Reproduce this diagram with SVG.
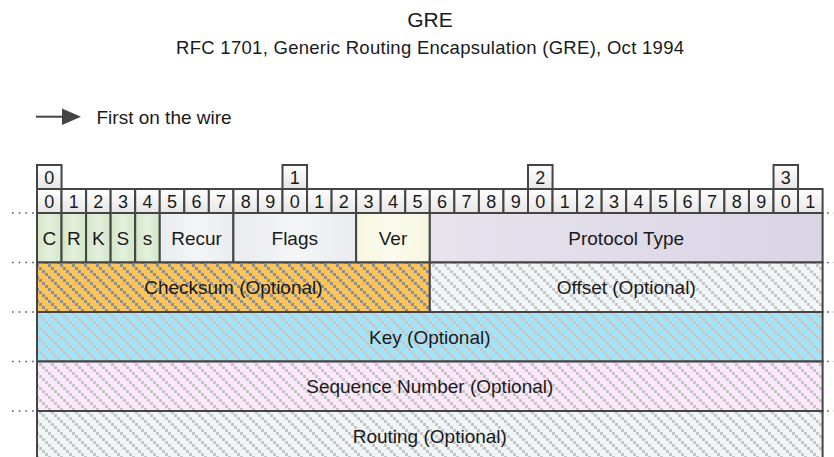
<svg xmlns="http://www.w3.org/2000/svg" width="834" height="457" viewBox="0 0 834 457">
<defs>
<style>
text{font-family:"Liberation Sans",Arial,sans-serif;fill:#1a1a1a;text-anchor:middle}
.t{font-size:21px}
.st{font-size:18.5px}
.lg{font-size:19px;text-anchor:start}
.bit{fill:url(#gBit);stroke:#454545;stroke-width:2}
.d{font-size:18px}
.f{stroke:#454545;stroke-width:2}
.lb{font-size:19px}
.dot{stroke:#555;stroke-width:1.6;stroke-dasharray:1.6 5.1;fill:none}
</style>
<linearGradient id="gBit" x1="0" y1="0" x2="0" y2="1"><stop offset="0" stop-color="#ffffff"/><stop offset="1" stop-color="#e6e6e6"/></linearGradient>
<linearGradient id="gGreen" x1="0" y1="0" x2="1" y2="0"><stop offset="0" stop-color="#d2e6c6"/><stop offset="0.5" stop-color="#e4f0dc"/><stop offset="1" stop-color="#d2e6c6"/></linearGradient>
<linearGradient id="gGray" x1="0" y1="0" x2="1" y2="0"><stop offset="0" stop-color="#e9ecf0"/><stop offset="0.5" stop-color="#f3f5f7"/><stop offset="1" stop-color="#e9ecf0"/></linearGradient>
<linearGradient id="gYel" x1="0" y1="0" x2="1" y2="0"><stop offset="0" stop-color="#f6f6df"/><stop offset="0.5" stop-color="#fbfbee"/><stop offset="1" stop-color="#f6f6df"/></linearGradient>
<linearGradient id="gLav" x1="0" y1="0" x2="1" y2="0"><stop offset="0" stop-color="#e6e3ec"/><stop offset="1" stop-color="#dad4e5"/></linearGradient>
<pattern id="hOr" width="12" height="12" patternUnits="userSpaceOnUse"><rect width="12" height="12" fill="#fcc55c"/><path d="M0 0h3v3h-3zM3 3h3v3h-3zM6 6h3v3h-3zM9 9h3v3h-3z" fill="#8e8e8e"/></pattern>
<pattern id="hOff" width="12" height="12" patternUnits="userSpaceOnUse"><rect width="12" height="12" fill="#f1f6f8"/><path d="M0 0h3v3h-3zM3 3h3v3h-3zM6 6h3v3h-3zM9 9h3v3h-3z" fill="#c9c9c9"/></pattern>
<pattern id="hKey" width="12" height="12" patternUnits="userSpaceOnUse"><rect width="12" height="12" fill="#a3e4f9"/><path d="M0 0h3v3h-3zM3 3h3v3h-3zM6 6h3v3h-3zM9 9h3v3h-3z" fill="#c6c6c6"/></pattern>
<pattern id="hSeq" width="12" height="12" patternUnits="userSpaceOnUse"><rect width="12" height="12" fill="#fde7fb"/><path d="M0 0h3v3h-3zM3 3h3v3h-3zM6 6h3v3h-3zM9 9h3v3h-3z" fill="#c6c6c6"/></pattern>
<pattern id="hRt" width="12" height="12" patternUnits="userSpaceOnUse"><rect width="12" height="12" fill="#f0f6f8"/><path d="M0 0h3v3h-3zM3 3h3v3h-3zM6 6h3v3h-3zM9 9h3v3h-3z" fill="#c6c6c6"/></pattern>
</defs>
<rect width="834" height="457" fill="#ffffff"/>

<g id="title">
<text class="t" x="430" y="27">GRE</text>
<text class="st" x="430" y="53.5" textLength="508" lengthAdjust="spacing">RFC 1701, Generic Routing Encapsulation (GRE), Oct 1994</text>
</g>

<g id="legend">
<line x1="36" y1="116.7" x2="64" y2="116.7" stroke="#444" stroke-width="2"/>
<polygon points="62,108.5 81,116.7 62,125" fill="#444"/>
<text class="lg" x="96.5" y="123.5">First on the wire</text>
</g>

<g id="bit-decades">
<rect class="bit" x="37" y="165" width="24.55" height="24"/><text class="d" x="49.28" y="183.5">0</text>
<rect class="bit" x="282.5" y="165" width="24.55" height="24"/><text class="d" x="294.78" y="183.5">1</text>
<rect class="bit" x="528" y="165" width="24.55" height="24"/><text class="d" x="540.28" y="183.5">2</text>
<rect class="bit" x="773.5" y="165" width="24.55" height="24"/><text class="d" x="785.78" y="183.5">3</text>
</g>

<g id="bit-numbers">
<rect class="bit" x="37" y="189" width="24.55" height="24"/><text class="d" x="49.28" y="207.5">0</text>
<rect class="bit" x="61.55" y="189" width="24.55" height="24"/><text class="d" x="73.83" y="207.5">1</text>
<rect class="bit" x="86.1" y="189" width="24.55" height="24"/><text class="d" x="98.38" y="207.5">2</text>
<rect class="bit" x="110.65" y="189" width="24.55" height="24"/><text class="d" x="122.93" y="207.5">3</text>
<rect class="bit" x="135.2" y="189" width="24.55" height="24"/><text class="d" x="147.48" y="207.5">4</text>
<rect class="bit" x="159.75" y="189" width="24.55" height="24"/><text class="d" x="172.03" y="207.5">5</text>
<rect class="bit" x="184.3" y="189" width="24.55" height="24"/><text class="d" x="196.58" y="207.5">6</text>
<rect class="bit" x="208.85" y="189" width="24.55" height="24"/><text class="d" x="221.13" y="207.5">7</text>
<rect class="bit" x="233.4" y="189" width="24.55" height="24"/><text class="d" x="245.68" y="207.5">8</text>
<rect class="bit" x="257.95" y="189" width="24.55" height="24"/><text class="d" x="270.23" y="207.5">9</text>
<rect class="bit" x="282.5" y="189" width="24.55" height="24"/><text class="d" x="294.78" y="207.5">0</text>
<rect class="bit" x="307.05" y="189" width="24.55" height="24"/><text class="d" x="319.33" y="207.5">1</text>
<rect class="bit" x="331.6" y="189" width="24.55" height="24"/><text class="d" x="343.88" y="207.5">2</text>
<rect class="bit" x="356.15" y="189" width="24.55" height="24"/><text class="d" x="368.43" y="207.5">3</text>
<rect class="bit" x="380.7" y="189" width="24.55" height="24"/><text class="d" x="392.98" y="207.5">4</text>
<rect class="bit" x="405.25" y="189" width="24.55" height="24"/><text class="d" x="417.53" y="207.5">5</text>
<rect class="bit" x="429.8" y="189" width="24.55" height="24"/><text class="d" x="442.08" y="207.5">6</text>
<rect class="bit" x="454.35" y="189" width="24.55" height="24"/><text class="d" x="466.63" y="207.5">7</text>
<rect class="bit" x="478.9" y="189" width="24.55" height="24"/><text class="d" x="491.18" y="207.5">8</text>
<rect class="bit" x="503.45" y="189" width="24.55" height="24"/><text class="d" x="515.73" y="207.5">9</text>
<rect class="bit" x="528" y="189" width="24.55" height="24"/><text class="d" x="540.28" y="207.5">0</text>
<rect class="bit" x="552.55" y="189" width="24.55" height="24"/><text class="d" x="564.83" y="207.5">1</text>
<rect class="bit" x="577.1" y="189" width="24.55" height="24"/><text class="d" x="589.38" y="207.5">2</text>
<rect class="bit" x="601.65" y="189" width="24.55" height="24"/><text class="d" x="613.93" y="207.5">3</text>
<rect class="bit" x="626.2" y="189" width="24.55" height="24"/><text class="d" x="638.48" y="207.5">4</text>
<rect class="bit" x="650.75" y="189" width="24.55" height="24"/><text class="d" x="663.03" y="207.5">5</text>
<rect class="bit" x="675.3" y="189" width="24.55" height="24"/><text class="d" x="687.58" y="207.5">6</text>
<rect class="bit" x="699.85" y="189" width="24.55" height="24"/><text class="d" x="712.13" y="207.5">7</text>
<rect class="bit" x="724.4" y="189" width="24.55" height="24"/><text class="d" x="736.68" y="207.5">8</text>
<rect class="bit" x="748.95" y="189" width="24.55" height="24"/><text class="d" x="761.23" y="207.5">9</text>
<rect class="bit" x="773.5" y="189" width="24.55" height="24"/><text class="d" x="785.78" y="207.5">0</text>
<rect class="bit" x="798.05" y="189" width="24.55" height="24"/><text class="d" x="810.33" y="207.5">1</text>
</g>

<g id="row-dots">
<path class="dot" d="M12 213H34M12 262.5H34M12 312H34M12 361.5H34M12 411H34"/>
<path class="dot" d="M827 213H834M827 262.5H834M827 312H834M827 361.5H834M827 411H834"/>
</g>

<g id="field-C"><rect class="f" x="37" y="213" width="24.55" height="49.5" fill="url(#gGreen)"/><text class="lb" x="49.28" y="244.5">C</text></g>
<g id="field-R"><rect class="f" x="61.55" y="213" width="24.55" height="49.5" fill="url(#gGreen)"/><text class="lb" x="73.83" y="244.5">R</text></g>
<g id="field-K"><rect class="f" x="86.1" y="213" width="24.55" height="49.5" fill="url(#gGreen)"/><text class="lb" x="98.38" y="244.5">K</text></g>
<g id="field-S"><rect class="f" x="110.65" y="213" width="24.55" height="49.5" fill="url(#gGreen)"/><text class="lb" x="122.93" y="244.5">S</text></g>
<g id="field-s"><rect class="f" x="135.2" y="213" width="24.55" height="49.5" fill="url(#gGreen)"/><text class="lb" x="147.48" y="244.5">s</text></g>
<g id="field-recur"><rect class="f" x="159.75" y="213" width="73.65" height="49.5" fill="url(#gGray)"/><text class="lb" x="196.58" y="244.5">Recur</text></g>
<g id="field-flags"><rect class="f" x="233.4" y="213" width="122.75" height="49.5" fill="url(#gGray)"/><text class="lb" x="294.78" y="244.5">Flags</text></g>
<g id="field-ver"><rect class="f" x="356.15" y="213" width="73.65" height="49.5" fill="url(#gYel)"/><text class="lb" x="392.98" y="244.5">Ver</text></g>
<g id="field-protocol"><rect class="f" x="429.8" y="213" width="392.8" height="49.5" fill="url(#gLav)"/><text class="lb" x="626.2" y="244.5">Protocol Type</text></g>

<g id="field-checksum"><rect class="f" x="37" y="262.5" width="392.8" height="49.5" fill="url(#hOr)"/><text class="lb" x="233.4" y="294">Checksum (Optional)</text></g>
<g id="field-offset"><rect class="f" x="429.8" y="262.5" width="392.8" height="49.5" fill="url(#hOff)"/><text class="lb" x="626.2" y="294">Offset (Optional)</text></g>
<g id="field-key"><rect class="f" x="37" y="312" width="785.6" height="49.5" fill="url(#hKey)"/><text class="lb" x="429.8" y="343.5">Key (Optional)</text></g>
<g id="field-seq"><rect class="f" x="37" y="361.5" width="785.6" height="49.5" fill="url(#hSeq)"/><text class="lb" x="429.8" y="393">Sequence Number (Optional)</text></g>
<g id="field-routing"><rect class="f" x="37" y="411" width="785.6" height="49.5" fill="url(#hRt)"/><text class="lb" x="429.8" y="442.5">Routing (Optional)</text></g>
</svg>
